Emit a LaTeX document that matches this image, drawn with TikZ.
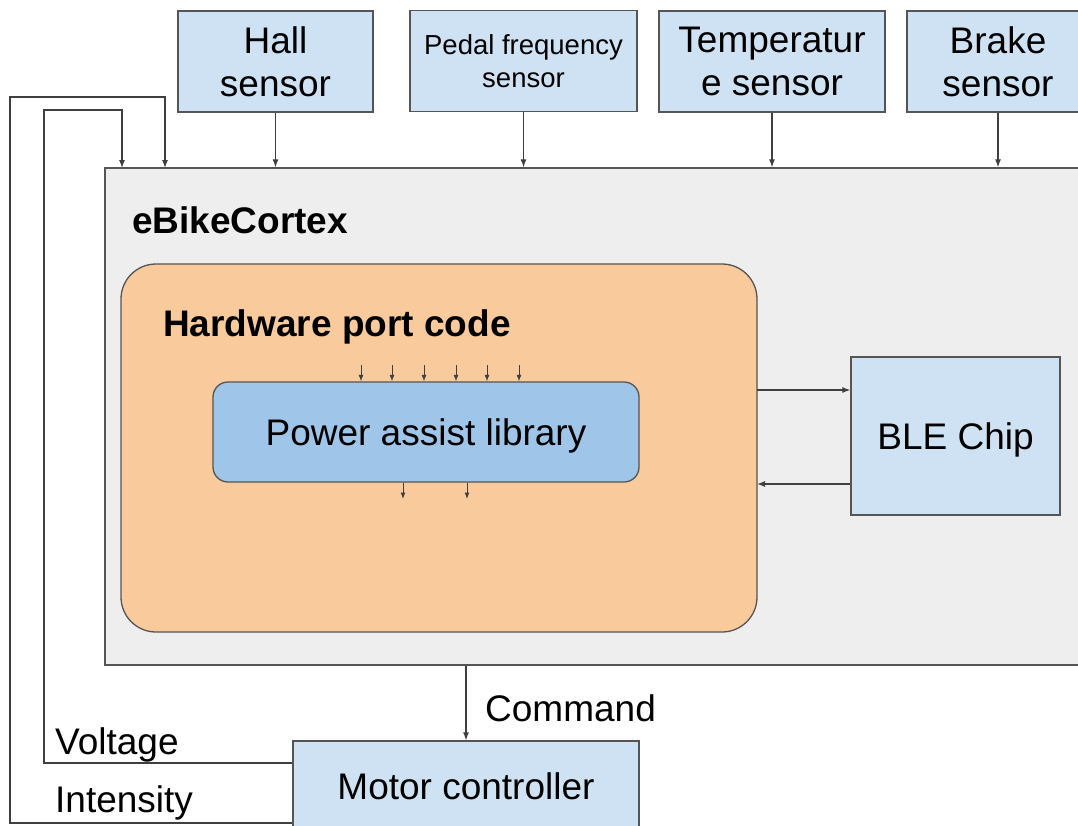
\documentclass[tikz,border=0pt]{standalone}
\usepackage{fontspec}
\setmainfont{Liberation Sans}
\usetikzlibrary{arrows.meta}
\definecolor{boxline}{HTML}{555555}
\definecolor{wireline}{HTML}{3F3F3F}
\definecolor{sensorfill}{HTML}{CFE2F3}
\definecolor{libfill}{HTML}{9FC5E8}
\definecolor{portfill}{HTML}{F8CA9C}
\definecolor{cortexfill}{HTML}{EEEEEE}
\tikzset{
  big/.style={font=\fontsize{37}{43}\selectfont},
  small/.style={font=\fontsize{27.5}{33}\selectfont},
  oneline/.style={text height=33pt, text depth=6pt},
  boxed/.style={draw=boxline, line width=1.3pt, inner sep=0pt, align=center},
  sensorbox/.style={boxed, fill=sensorfill, big},
  arr/.style={draw=wireline, line width=1.2pt, -{Latex[length=8pt,width=6pt]}},
  tinyarr/.style={draw=wireline, line width=1pt, -{Latex[length=6.5pt,width=5pt]}},
  label/.style={anchor=base west, inner sep=0pt, big},
  title/.style={anchor=base west, inner sep=0pt, font=\fontsize{37}{43}\selectfont\bfseries},
}
\begin{document}
\begin{tikzpicture}[x=1pt, y=-1pt]
\useasboundingbox (0,0) rectangle (1078,825);
\clip (0,0) rectangle (1078,825);
\fill[white] (0,0) rectangle (1078,825);

% main controller board
\node[boxed, fill=cortexfill, minimum width=1000pt, minimum height=497pt] (cortex) at (605,416.5) {};
\node[title] (cortextitle) at (132,233) {eBikeCortex};

% hardware port layer
\node[boxed, fill=portfill, rounded corners=35pt, minimum width=636pt, minimum height=368pt] (hw) at (439,448) {};
\node[title] (hwtitle) at (163,336) {Hardware port code};

% power assist library
\node[boxed, fill=libfill, rounded corners=15pt, minimum width=426pt, minimum height=100pt, big, oneline] (pal) at (426,432) {Power assist library};

% BLE chip
\node[sensorbox, oneline, minimum width=209pt, minimum height=158pt] (ble) at (955.5,436) {BLE Chip};

% sensors
\node[sensorbox, minimum width=195pt, minimum height=101pt] (hall) at (275.5,61.5) {Hall\\sensor};
\node[sensorbox, small, minimum width=227pt, minimum height=101pt] (pedal) at (523.5,61) {Pedal frequency\\sensor};
\node[sensorbox, minimum width=226pt, minimum height=101pt] (temp) at (772,61.5) {Temperatur\\e sensor};
\node[sensorbox, minimum width=182pt, minimum height=101pt] (brake) at (998,61.5) {Brake\\sensor};

% motor controller
\node[sensorbox, oneline, minimum width=346pt, minimum height=90pt] (motor) at (466,786) {Motor controller};

% sensor inputs
\foreach \s in {hall,pedal,temp,brake}
  \draw[arr] (\s.south) -- (\s.south |- cortex.north);

% library inputs and outputs
\foreach \x in {361,392,424,456,487,519} {
  \coordinate (in\x) at (\x,365);
  \draw[tinyarr] (in\x) -- (in\x |- pal.north);
}
\foreach \x in {403,467} {
  \coordinate (out\x) at (\x,499);
  \draw[tinyarr] (out\x |- pal.south) -- (out\x);
}

% BLE link
\coordinate (bleA) at (757,390);
\coordinate (bleB) at (757,484);
\draw[arr] (bleA) -- (bleA -| ble.west);
\draw[arr] (bleB -| ble.west) -- (bleB);

% command to motor controller
\draw[arr] (cortex.south -| motor.north) -- (motor.north);
\node[label] (cmd) at (485,721) {Command};

% feedback from motor controller
\coordinate (vstart) at (motor.west |- 0,763);
\coordinate (vin) at (122,168);
\draw[arr] (vstart) -- (44,763) -- (44,110) -- (122,110) -- (vin);
\node[label] (vlabel) at (55,754) {Voltage};

\coordinate (istart) at (motor.west |- 0,823);
\coordinate (iin) at (165,168);
\draw[arr] (istart) -- (10,823) -- (10,97) -- (165,97) -- (iin);
\node[label] (ilabel) at (55,812) {Intensity};
\end{tikzpicture}
\end{document}
